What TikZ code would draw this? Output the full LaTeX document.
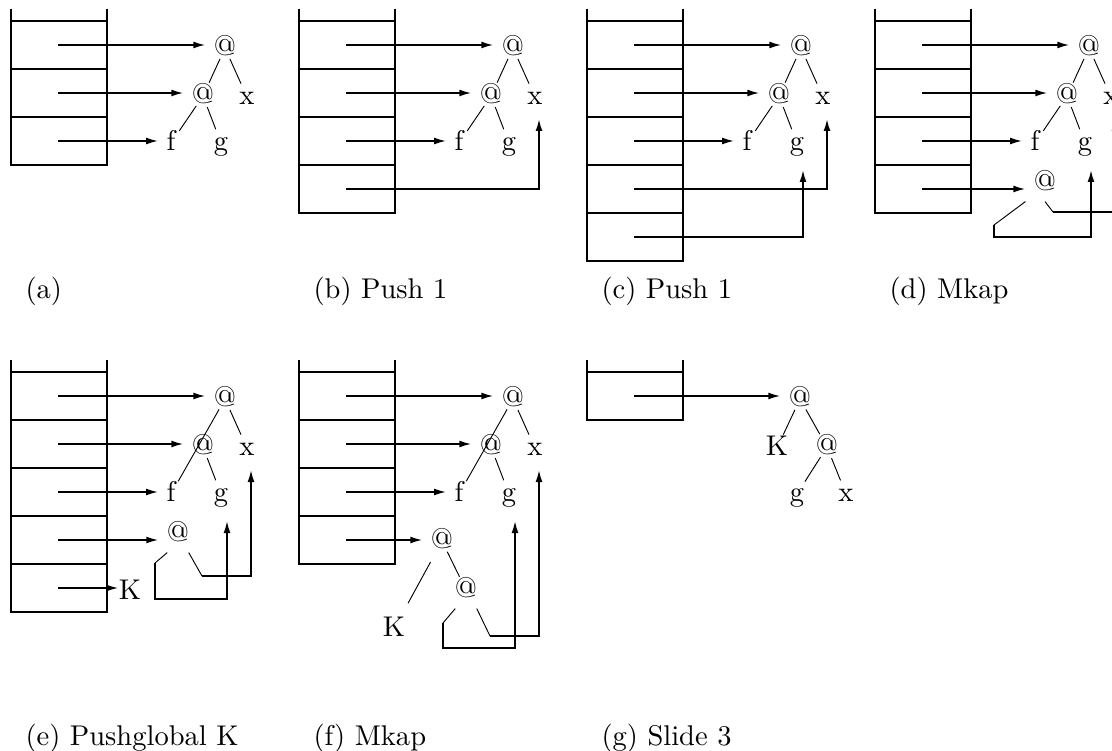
\documentclass[tikz,border=0pt]{standalone}
\usepackage{tikz}
\usetikzlibrary{calc,positioning,arrows.meta}

% stack with #2 cells, coordinates #11 ... #1#2 inside the cells
\newcommand{\gstack}[2]{%
  \draw[cell] (11,9) -- (11,{21+48*#2}) -- (107,{21+48*#2}) -- (107,9);
  \foreach \i in {1,...,#2}{
    \draw[cell] (11,{48*\i-27}) -- (107,{48*\i-27});
    \coordinate (#1\i) at (58,{48*\i-3});
  }
}
% graph of (f g) x with the first three cells pointing into it
\newcommand{\gtree}[1]{%
  \node[tnode] (#1a) at (225,48) {@};
  \node[tnode] (#1b) at (203,96) {@};
  \node[tnode] (#1x) at (247,97) {x};
  \node[tnode] (#1f) at (171,143) {f};
  \node[tnode] (#1g) at (221,143) {g};
  \draw[tedge] (#1a.center) -- (#1x.center);
  \draw[tedge] (#1b.center) -- (#1g.center);
  \draw[ptr] (#11) -- (#11 -| #1a.west);
  \draw[ptr] (#12) -- (#12 -| #1b.west);
  \draw[ptr] (#13) -- (#13 -| #1f.west);
}

\begin{document}
\begin{tikzpicture}[x=0.375pt,y=-0.375pt,
    every node/.style={font=\fontsize{10.7}{13}\selectfont},
    cell/.style={line width=0.65pt},
    ptr/.style={line width=0.65pt,-{Latex[length=4.5pt,width=2.6pt]}},
    twig/.style={line width=0.35pt},
    tedge/.style={twig,shorten <=4.5pt,shorten >=5.5pt},
    tnode/.style={text height=1.5ex,text depth=.25ex,inner sep=3pt},
    subcap/.style={anchor=base west,inner sep=0pt}]
  \useasboundingbox (0,0) rectangle (1112,751);
  \clip (0,0) rectangle (1112,751);

  % (a)
  \begin{scope}
    \gstack{a}{3}
    \gtree{a}
    \draw[tedge] (aa.center) -- (ab.center);
    \draw[tedge] (ab.center) -- (af.center);
    \node[subcap] (acap) at (25,299) {(a)};
  \end{scope}

  % (b)
  \begin{scope}[shift={(288,0)}]
    \gstack{b}{4}
    \gtree{b}
    \draw[tedge] (ba.center) -- (bb.center);
    \draw[tedge] (bb.center) -- (bf.center);
    \draw[ptr] (b4) -| ($(bx)+(4,22)$);
    \node[subcap] (bcap) at (25,299) {(b) Push 1};
  \end{scope}

  % (c)
  \begin{scope}[shift={(576,0)}]
    \gstack{c}{5}
    \gtree{c}
    \draw[tedge] (ca.center) -- (cb.center);
    \draw[tedge] (cb.center) -- (cf.center);
    \draw[ptr] (c4) -| ($(cx)+(4,22)$);
    \draw[ptr] (c5) -| ($(cg)+(6,27)$);
    \node[subcap] (ccap) at (25,299) {(c) Push 1};
  \end{scope}

  % (d)
  \begin{scope}[shift={(864,0)}]
    \gstack{d}{4}
    \gtree{d}
    \draw[tedge] (da.center) -- (db.center);
    \draw[tedge] (db.center) -- (df.center);
    \node[tnode] (dn) at (181,183) {@};
    \draw[ptr] (d4) -- (d4 -| dn.west);
    \coordinate (dp) at (130,225);
    \coordinate (dq) at (189,212);
    \draw[twig] (dn.south west) -- (dp);
    \draw[twig] (dn.south) -- (dq);
    \draw[ptr] (dp) -- ++(0,12) -| ($(dg)+(6,27)$);
    \draw[ptr] (dq) -| ($(dx)+(4,22)$);
    \node[subcap] (dcap) at (25,299) {(d) Mkap};
  \end{scope}

  % (e)
  \begin{scope}[shift={(0,351)}]
    \gstack{e}{5}
    \gtree{e}
    \draw[tedge] (ea.center) -- (ef.center);
    \node[tnode] (en) at (178,183) {@};
    \node[tnode,inner sep=0pt] (eK) at (130,241) {K};
    \draw[ptr] (e4) -- (e4 -| en.west);
    \draw[ptr] (e5) -- (e5 -| eK.west);
    \coordinate (ep) at (155,212);
    \coordinate (eq) at (202,225);
    \draw[twig] (en.240) -- (ep);
    \draw[twig] (en.300) -- (eq);
    \draw[ptr] (ep) -- ++(0,36) -| ($(eg)+(6,27)$);
    \draw[ptr] (eq) -| ($(ex)+(4,22)$);
    \node[subcap] (ecap) at (25,394) {(e) Pushglobal K};
  \end{scope}

  % (f)
  \begin{scope}[shift={(288,351)}]
    \gstack{f}{4}
    \gtree{f}
    \draw[tedge] (fa.center) -- (ff.center);
    \node[tnode] (fn) at (154,190) {@};
    \node[tnode] (fm) at (178,239) {@};
    \node[tnode] (fK) at (106,278) {K};
    \draw[ptr] (f4) -- (f4 -| fn.west);
    \draw[tedge] (fn.center) -- (fm.center);
    \draw[tedge,shorten <=9pt,shorten >=11pt] (fn.center) -- (fK.center);
    \coordinate (fp) at (155,272);
    \coordinate (fq) at (202,285);
    \draw[twig] (fm.240) -- (fp);
    \draw[twig] (fm.300) -- (fq);
    \draw[ptr] (fp) -- ++(0,25) -| ($(fg)+(6,27)$);
    \draw[ptr] (fq) -| ($(fx)+(4,22)$);
    \node[subcap] (fcap) at (25,394) {(f) Mkap};
  \end{scope}

  % (g)
  \begin{scope}[shift={(576,351)}]
    \gstack{g}{1}
    \node[tnode] (ga) at (224,48) {@};
    \node[tnode] (gK) at (201,97) {K};
    \node[tnode] (gb) at (251,96) {@};
    \node[tnode] (gg) at (221,143) {g};
    \node[tnode] (gx) at (270,143) {x};
    \draw[ptr] (g1) -- (g1 -| ga.west);
    \draw[tedge] (ga.center) -- (gK.center);
    \draw[tedge] (ga.center) -- (gb.center);
    \draw[tedge] (gb.center) -- (gg.center);
    \draw[tedge] (gb.center) -- (gx.center);
    \node[subcap] (gcap) at (25,394) {(g) Slide 3};
  \end{scope}
\end{tikzpicture}
\end{document}
